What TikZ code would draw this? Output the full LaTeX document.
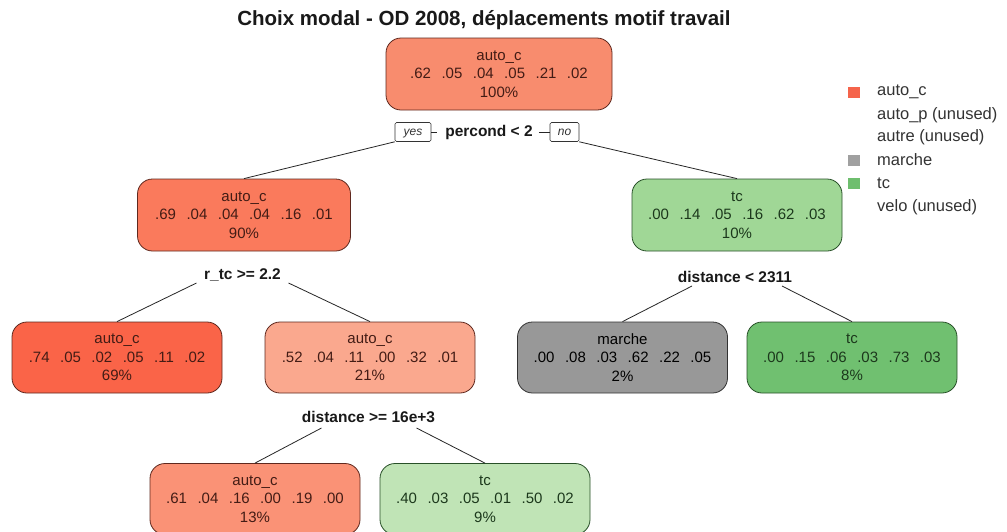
\documentclass[tikz,border=0pt]{standalone}
\usepackage{fontspec}
\setmainfont{Liberation Sans}
\definecolor{fRoot}{RGB}{248,140,110}
\definecolor{fL}{RGB}{250,122,92}
\definecolor{fLL}{RGB}{250,100,72}
\definecolor{fLR}{RGB}{250,168,142}
\definecolor{fLRL}{RGB}{250,146,118}
\definecolor{fR}{RGB}{160,215,150}
\definecolor{fRR}{RGB}{112,192,112}
\definecolor{fLRR}{RGB}{192,228,182}
\definecolor{fRL}{RGB}{152,152,152}
\definecolor{dRed}{RGB}{95,40,30}
\definecolor{dGreen}{RGB}{40,80,40}
\definecolor{dGray}{RGB}{50,50,50}
\definecolor{legRed}{RGB}{245,100,75}
\definecolor{legGray}{RGB}{160,160,160}
\definecolor{legGreen}{RGB}{110,190,110}
\newcommand\pnums[6]{#1\hspace{10.5pt}#2\hspace{10.5pt}#3\hspace{10.5pt}#4\hspace{10.5pt}#5\hspace{10.5pt}#6}
\tikzset{
  leaf/.style={rectangle, rounded corners=15pt, minimum width=210pt, minimum height=71pt,
    line width=0.8pt, align=center, font=\fontsize{15}{18.5}\selectfont, inner sep=0pt},
  redleaf/.style={leaf, draw=dRed, text=dRed!70!black},
  greenleaf/.style={leaf, draw=dGreen, text=dGreen!70!black},
  grayleaf/.style={leaf, draw=dGray, text=black},
  splitlbl/.style={font=\bfseries\fontsize{15.5}{18}\selectfont, inner sep=1pt, text=black!90},
  yn/.style={draw=black!80, rounded corners=1.5pt, font=\itshape\fontsize{12}{14}\selectfont,
    minimum height=19pt, inner sep=0pt, text height=8.5pt, text depth=2.5pt, line width=0.6pt, text=black!80},
  conn/.style={line width=0.8pt, draw=black!85},
  legsq/.style={minimum width=12pt, minimum height=11pt, inner sep=0pt},
  legtxt/.style={anchor=west, font=\fontsize{16.5}{20}\selectfont, text=black!80, inner sep=0pt}
}
\begin{document}
\begin{tikzpicture}[x=1pt,y=-1pt]
\useasboundingbox (0,0) rectangle (1007,531);
\clip (0,0) rectangle (1007,531);
\fill[white] (0,0) rectangle (1007,531);

% title
\node[font=\bfseries\fontsize{20.5}{24}\selectfont, text=black!90] (title) at (484,20) {Choix modal - OD 2008, déplacements motif travail};

% nodes
\node[redleaf, fill=fRoot, minimum width=226pt, minimum height=72pt] (root) at (499,74)
  {\raisebox{-2pt}{\parbox{200pt}{\centering auto\_c\\\pnums{.62}{.05}{.04}{.05}{.21}{.02}\\100\%}}};
\node[redleaf, fill=fL, minimum width=213pt, minimum height=72pt] (L) at (244,215)
  {auto\_c\\\pnums{.69}{.04}{.04}{.04}{.16}{.01}\\90\%};
\node[greenleaf, fill=fR, minimum height=72pt] (R) at (737,215)
  {tc\\\pnums{.00}{.14}{.05}{.16}{.62}{.03}\\10\%};
\node[redleaf, fill=fLL] (LL) at (117,357.5)
  {auto\_c\\\pnums{.74}{.05}{.02}{.05}{.11}{.02}\\69\%};
\node[redleaf, fill=fLR] (LR) at (370,357.5)
  {auto\_c\\\pnums{.52}{.04}{.11}{.00}{.32}{.01}\\21\%};
\node[grayleaf, fill=fRL] (RL) at (622.5,357.5)
  {marche\\\pnums{.00}{.08}{.03}{.62}{.22}{.05}\\2\%};
\node[greenleaf, fill=fRR] (RR) at (852,357.5)
  {tc\\\pnums{.00}{.15}{.06}{.03}{.73}{.03}\\8\%};
\node[redleaf, fill=fLRL] (LRL) at (255,499)
  {auto\_c\\\pnums{.61}{.04}{.16}{.00}{.19}{.00}\\13\%};
\node[greenleaf, fill=fLRR] (LRR) at (485,499)
  {tc\\\pnums{.40}{.03}{.05}{.01}{.50}{.02}\\9\%};

% split labels
\node[splitlbl] (s0) at (489,132) {percond < 2};
\node[yn, minimum width=36pt] (yes) at (413,132) {yes};
\node[yn, minimum width=29pt] (no) at (564.5,132) {no};
\node[splitlbl] (s1) at (242.5,275) {r\_tc >= 2.2};
\node[splitlbl] (s2) at (368.5,417) {distance >= 16e+3};
\node[splitlbl] (s3) at (735,277) {distance < 2311};

% connectors
\draw[conn] (yes.east) -- ([xshift=-7pt]s0.west);
\draw[conn] ([xshift=5pt]s0.east) -- (no.west);
\draw[conn] (yes.south west) -- (L.north);
\draw[conn] (no.south east) -- (R.north);
\draw[conn] ([shift={(-46,8)}]s1.center) -- (LL.north);
\draw[conn] ([shift={(46,8)}]s1.center) -- (LR.north);
\draw[conn] ([shift={(-47,11)}]s2.center) -- (LRL.north);
\draw[conn] ([shift={(48,11)}]s2.center) -- (LRR.north);
\draw[conn] ([shift={(-43,9)}]s3.center) -- (RL.north);
\draw[conn] ([shift={(47,9)}]s3.center) -- (RR.north);

% legend
\node[legsq, fill=legRed] (q1) at (853.5,92) {};
\node[legsq, fill=legGray] (q4) at (853.5,160) {};
\node[legsq, fill=legGreen] (q5) at (853.5,183) {};
\node[legtxt] (t1) at (877,92) {auto\_c};
\node[legtxt] (t2) at (877,115) {auto\_p (unused)};
\node[legtxt] (t3) at (877,137) {autre (unused)};
\node[legtxt] (t4) at (877,160) {marche};
\node[legtxt] (t5) at (877,183) {tc};
\node[legtxt] (t6) at (877,207) {velo (unused)};
\end{tikzpicture}
\end{document}
